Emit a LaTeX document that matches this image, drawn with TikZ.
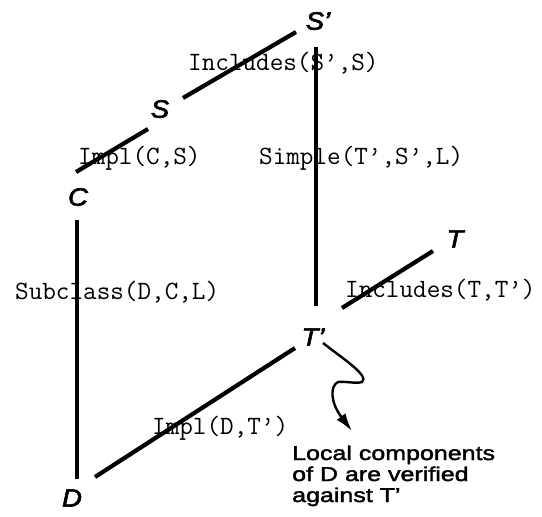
\documentclass[tikz,border=0pt]{standalone}
\usepackage{fontspec}
\setmainfont{Liberation Sans}
\newfontfamily\notef[FakeStretch=1.25,FakeBold=2]{Liberation Sans}
\newfontfamily\labf[FakeStretch=1.1,FakeBold=2.5]{Liberation Sans}
\usetikzlibrary{arrows.meta}
\begin{document}
\begin{tikzpicture}[x=1pt,y=-1pt,
  lab/.style={font=\labf\itshape\fontsize{25}{25}\selectfont, inner sep=0pt},
  rel/.style={font=\ttfamily\fontsize{26.4}{26}\selectfont, inner sep=0pt, anchor=west},
  link/.style={line width=4.2pt},
  note/.style={font=\notef\fontsize{20}{21}\selectfont, anchor=base west, inner sep=0pt},
  squig/.style={line width=2.4pt, -{Latex[length=18pt,width=11pt]}}]
\useasboundingbox (0,0) rectangle (542,517);
% labels
\node[lab] (Sp) at (318,21) {S’};
\node[lab] (S)  at (160,109) {S};
\node[lab] (C)  at (78,197) {C};
\node[lab] (T)  at (455,239) {T};
\node[lab] (Tp) at (313,337) {T’};
\node[lab] (D)  at (72,498) {D};
% connector ends
\coordinate (a1) at (183,98);  \coordinate (a2) at (296,32);
\coordinate (b1) at (76,172);  \coordinate (b2) at (148,129);
\coordinate (c1) at (316,47);  \coordinate (c2) at (316,306);
\coordinate (d1) at (77,220);  \coordinate (d2) at (77,479);
\coordinate (e1) at (342,308); \coordinate (e2) at (433,251);
\coordinate (f1) at (95,477);  \coordinate (f2) at (295,348);
\coordinate (g1) at (323,343); \coordinate (g2) at (352,431);
% connectors
\draw[link] (a1) -- (a2);
\draw[link] (b1) -- (b2);
\draw[link] (c1) -- (c2);
\draw[link] (d1) -- (d2);
\draw[link] (e1) -- (e2);
\draw[link] (f1) -- (f2);
\draw[squig] (g1) .. controls (342,358) and (370,376) .. (362,382)
   .. controls (356,384) and (345,381) .. (338,382)
   .. controls (330,386) and (330,402) .. (g2);
% relation labels
\node[rel] (r1) at (188,63)  {Includes(S’,S)};
\node[rel] (r2) at (78,158)  {Impl(C,S)};
\node[rel] (r3) at (259,158) {Simple(T’,S’,L)};
\node[rel] (r4) at (15,292)  {Subclass(D,C,L)};
\node[rel] (r5) at (345,290) {Includes(T,T’)};
\node[rel] (r6) at (152,428) {Impl(D,T’)};
% note
\node[note] (n1) at (292,460) {Local components};
\node[note] (n2) at (292,481) {of D are verified};
\node[note] (n3) at (292,502) {against T’};
\end{tikzpicture}
\end{document}
